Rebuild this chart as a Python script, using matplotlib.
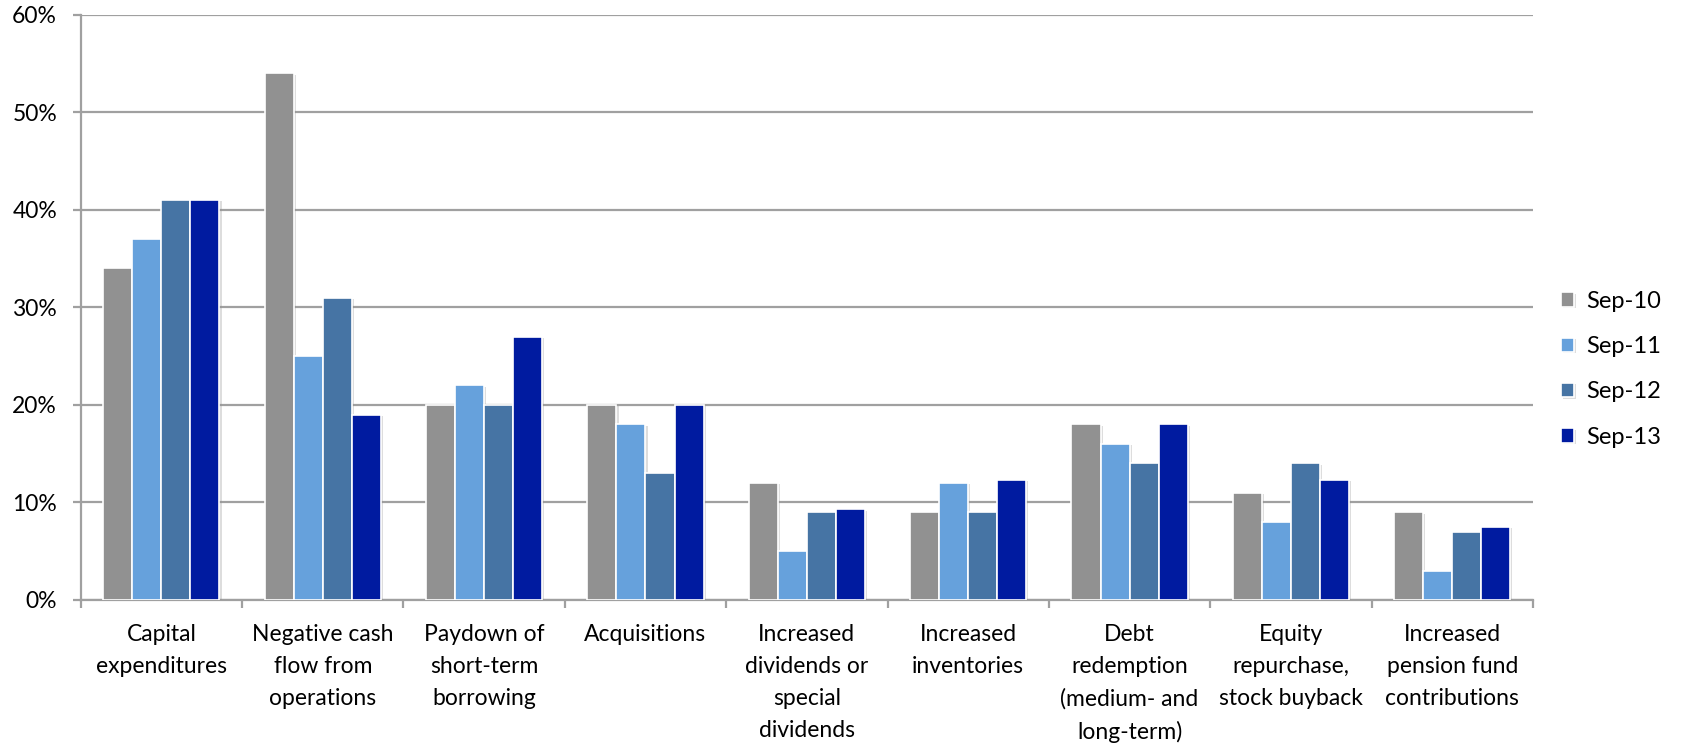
import matplotlib
matplotlib.use("Agg")
import matplotlib.pyplot as plt
import matplotlib.patheffects as pe
from matplotlib.ticker import FixedLocator, PercentFormatter
import numpy as np

categories = [
    "Capital\nexpenditures",
    "Negative cash\nflow from\noperations",
    "Paydown of\nshort-term\nborrowing",
    "Acquisitions",
    "Increased\ndividends or\nspecial\ndividends",
    "Increased\ninventories",
    "Debt\nredemption\n(medium- and\nlong-term)",
    "Equity\nrepurchase,\nstock buyback",
    "Increased\npension fund\ncontributions",
]
series = ["Sep-10", "Sep-11", "Sep-12", "Sep-13"]
sep10 = [34, 54, 20, 20, 12, 9, 18, 11, 9]
sep11 = [37, 25, 22, 18, 5, 12, 16, 8, 3]
sep12 = [41, 31, 20, 13, 9, 9, 14, 14, 7]
sep13 = [41, 19, 27, 20, 9.3, 12.3, 18, 12.3, 7.5]
colors = ["#919191", "#66A1DC", "#4674A4", "#001BA0"]

plt.rcParams["font.family"] = ["Lato", "DejaVu Sans"]
grid_col = "#A0A0A0"

fig = plt.figure(figsize=(16.84, 7.46), dpi=100)
ax = fig.add_axes([80.7 / 1684, 146 / 746, (1533 - 80.7) / 1684, (600 - 14.7) / 746])

x = np.arange(len(categories))
w = 0.18
shadow = [pe.SimplePatchShadow(offset=(1.5, -1), shadow_rgbFace="#909090", alpha=0.3), pe.Normal()]
for i, (vals, name) in enumerate(zip([sep10, sep11, sep12, sep13], series)):
    bars = ax.bar(x + (i - 1.5) * w, vals, width=w, color=colors[i], edgecolor="white",
                  linewidth=1.2, label=name, zorder=3)
    for b in bars:
        b.set_path_effects(shadow)

ax.set_xlim(-0.5, len(categories) - 0.5)
ax.set_ylim(0, 60)
ax.set_yticks(np.arange(0, 61, 10))
ax.yaxis.set_major_formatter(PercentFormatter(decimals=0))
ax.grid(axis="y", color=grid_col, linewidth=1.6, zorder=0)

ax.set_xticks(x)
ax.set_xticklabels(categories, fontsize=16.5, linespacing=1.65, va="top")
ax.xaxis.set_minor_locator(FixedLocator(np.arange(-0.5, len(categories), 1)))
ax.tick_params(axis="x", which="major", length=0, pad=17)
ax.tick_params(axis="x", which="minor", length=6, width=1.6, color=grid_col)
ax.tick_params(axis="y", length=6, width=1.6, color=grid_col, labelsize=16.5, pad=11)

for s in ["top", "right"]:
    ax.spines[s].set_visible(False)
for s in ["left", "bottom"]:
    ax.spines[s].set_color(grid_col)
    ax.spines[s].set_linewidth(1.6)

fig.legend(loc="center left", bbox_to_anchor=(1540 / 1684, 0.505), frameon=False,
           prop={"size": 17}, handlelength=0.55, handleheight=0.55,
           handletextpad=0.5, labelspacing=1.03)

fig.savefig("out.png", dpi=100)
